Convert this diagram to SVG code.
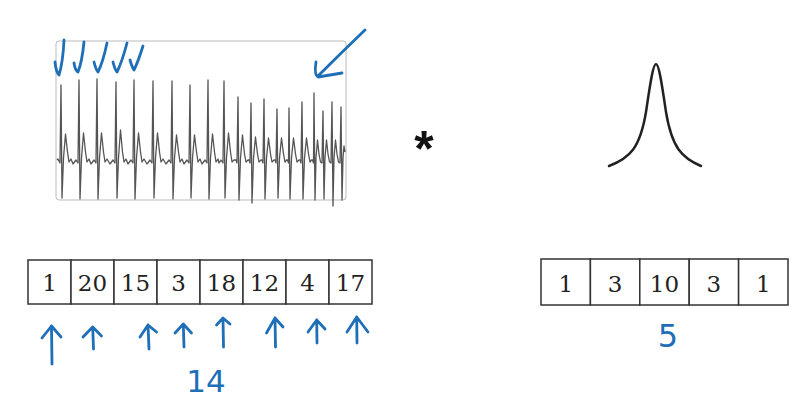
<svg xmlns="http://www.w3.org/2000/svg" width="800" height="408" viewBox="0 0 800 408">
<defs>
<style>
.cell{fill:#fff;stroke:#333;stroke-width:1.5}
.num{font-family:"DejaVu Serif","Liberation Serif",serif;font-size:23px;fill:#222;text-anchor:middle}
.ink{fill:none;stroke:#1f6fb8;stroke-width:2.8;stroke-linecap:round;stroke-linejoin:round}
.hand{font-family:"DejaVu Sans","Liberation Sans",sans-serif;fill:#1f6fb8;text-anchor:middle}
</style>
</defs>
<rect width="800" height="408" fill="#fff"/>
<g id="ecg">
<rect x="56" y="41" width="290" height="159" rx="3" fill="#fff" stroke="#bbb" stroke-width="1"/>
<path fill="none" stroke="#555" stroke-width="1.3" stroke-linejoin="round" d="M57 160 L58 159 L60 163 L61 85 L62 198 L63.5 158 L65.5 134 L67.5 152 L69 162 L71 159 L73 164 L76 160 L78 163 L79 80 L80 199 L81.5 158 L83.5 133 L85.5 152 L87 162 L89 159 L91 164 L94 160 L96 163 L97 79 L98 199 L99.5 158 L101.5 133 L103.5 152 L105 162 L107 159 L110 164 L113 160 L115 163 L116 82 L117 198 L118.5 158 L120.5 130 L122.5 152 L124 162 L126 159 L128 164 L131 160 L133 163 L134 80 L135 199 L136.5 158 L138.5 133 L140.5 152 L142 162 L144 159 L147 164 L150 160 L152 163 L153 81 L154 198 L155.5 158 L157.5 133 L159.5 152 L161 162 L163 159 L166 164 L169 160 L171 163 L172 81 L173 199 L174.5 158 L176.5 135 L178.5 152 L180 162 L182 159 L184 164 L187 160 L189 163 L190 85 L191 198 L192.5 158 L194.5 135 L196.5 152 L198 162 L200 159 L202 164 L205 160 L207 163 L208 80 L209 199 L210.5 158 L212.5 134 L214.5 152 L216 162 L218 159 L219 163 L221 160 L223 163 L224 81 L225 198 L226.5 158 L228.5 133 L230.5 152 L232 162 L234 160 L236 160 L237 163 L238 97 L239 200 L240.5 158 L242.5 135 L244.5 154 L246 162 L248 160 L249 160 L250 163 L251 103 L252 203 L253.5 158 L255.5 137 L257.5 154 L259 162 L261 160 L262 160 L263 163 L264 99 L265 199 L266.5 158 L268.5 138 L270.5 154 L272 162 L274 160 L275 160 L276 163 L277 109 L278 198 L279.5 158 L281.5 138 L283.5 154 L285 162 L286.5 160 L287.5 160 L288.5 163 L289 108 L290 199 L291.5 158 L293.5 138 L295.5 154 L297 162 L299 160 L300 160 L301 163 L302 102 L303 199 L304.5 158 L306.5 138 L308.5 154 L310 162 L311.5 160 L312.5 160 L313.5 163 L314 93 L315 200 L316 158 L317.5 140 L319 154 L320.5 162 L322 163 L323 111 L324 199 L325 158 L326.5 140 L328 154 L329.5 162 L331 163 L332 102 L333 206 L334 158 L335.5 140 L337 154 L338.5 162 L340 163 L341 107 L342 200 L343 158 L344 146 L345 152"/>
</g>
<g id="ecg-marks">
<path class="ink" d="M64 40 Q63 62 59 75 M55 62 Q56 72 59 75"/>
<path class="ink" d="M84 42 Q82 62 78 72 M74 63 Q75 70 78 72"/>
<path class="ink" d="M107 43 Q103 62 98 72 M94 62 Q96 70 98 72"/>
<path class="ink" d="M127 43 Q122 62 117 72 M113 62 Q115 70 117 72"/>
<path class="ink" d="M143 46 Q138 62 134 70 M130 60 Q132 67 134 70"/>
<path class="ink" d="M365 30 Q342 52 318 76 M316 62 Q314 75 318 77 L342 73"/>
</g>
<g id="times">
<text x="424" y="166" font-family="Liberation Sans, sans-serif" font-size="50" font-weight="bold" text-anchor="middle" fill="#111">*</text>
</g>
<g id="kernel-curve">
<path fill="none" stroke="#222" stroke-width="2.5" stroke-linecap="round" d="M609 166 C630 158, 640 148, 646 112 C650 85, 653 64, 656 64 C659 64, 662 85, 666 112 C672 148, 682 158, 701 166"/>
</g>
<g id="signal-array">
<rect class="cell" x="28" y="260" width="43" height="44"/>
<rect class="cell" x="71" y="260" width="43" height="44"/>
<rect class="cell" x="114" y="260" width="43" height="44"/>
<rect class="cell" x="157" y="260" width="43" height="44"/>
<rect class="cell" x="200" y="260" width="43" height="44"/>
<rect class="cell" x="243" y="260" width="43" height="44"/>
<rect class="cell" x="286" y="260" width="43" height="44"/>
<rect class="cell" x="329" y="260" width="43" height="44"/>
<text class="num" x="49.5" y="291">1</text>
<text class="num" x="92.5" y="291">20</text>
<text class="num" x="135.5" y="291">15</text>
<text class="num" x="178.5" y="291">3</text>
<text class="num" x="221.5" y="291">18</text>
<text class="num" x="264.5" y="291">12</text>
<text class="num" x="307.5" y="291">4</text>
<text class="num" x="350.5" y="291">17</text>
</g>
<g id="signal-marks">
<path class="ink" d="M52 364 L51.5 326 M42 338 L51.5 326 L61 337"/>
<path class="ink" d="M93.5 349 L92.7 327 M83 337 L92.7 327 L101.5 336"/>
<path class="ink" d="M149 349 L148 325 M140 337 L148 325 L156.5 332"/>
<path class="ink" d="M184 347 L183.3 324 M175 333 L183.3 324 L191.5 333"/>
<path class="ink" d="M223.5 347 L223 319 M216.5 325 L223 318 L230 324"/>
<path class="ink" d="M275.5 347 L275 318 M266.5 333 L275 318 L283 327"/>
<path class="ink" d="M317 343 L316.7 320 M308 332 L316.7 320 L325 329"/>
<path class="ink" d="M357 343 L356.7 317 M347 332 L356.7 317 L368 332"/>
<text class="hand" x="206" y="392" font-size="31">14</text>
</g>
<g id="kernel-array">
<rect class="cell" x="541" y="259" width="49.4" height="46"/>
<rect class="cell" x="590.4" y="259" width="49.4" height="46"/>
<rect class="cell" x="639.8" y="259" width="49.4" height="46"/>
<rect class="cell" x="689.2" y="259" width="49.4" height="46"/>
<rect class="cell" x="738.6" y="259" width="49.4" height="46"/>
<text class="num" x="565.7" y="292">1</text>
<text class="num" x="615.1" y="292">3</text>
<text class="num" x="664.5" y="292">10</text>
<text class="num" x="713.9" y="292">3</text>
<text class="num" x="763.3" y="292">1</text>
<text class="hand" x="668" y="347" font-size="32">5</text>
</g>
</svg>
